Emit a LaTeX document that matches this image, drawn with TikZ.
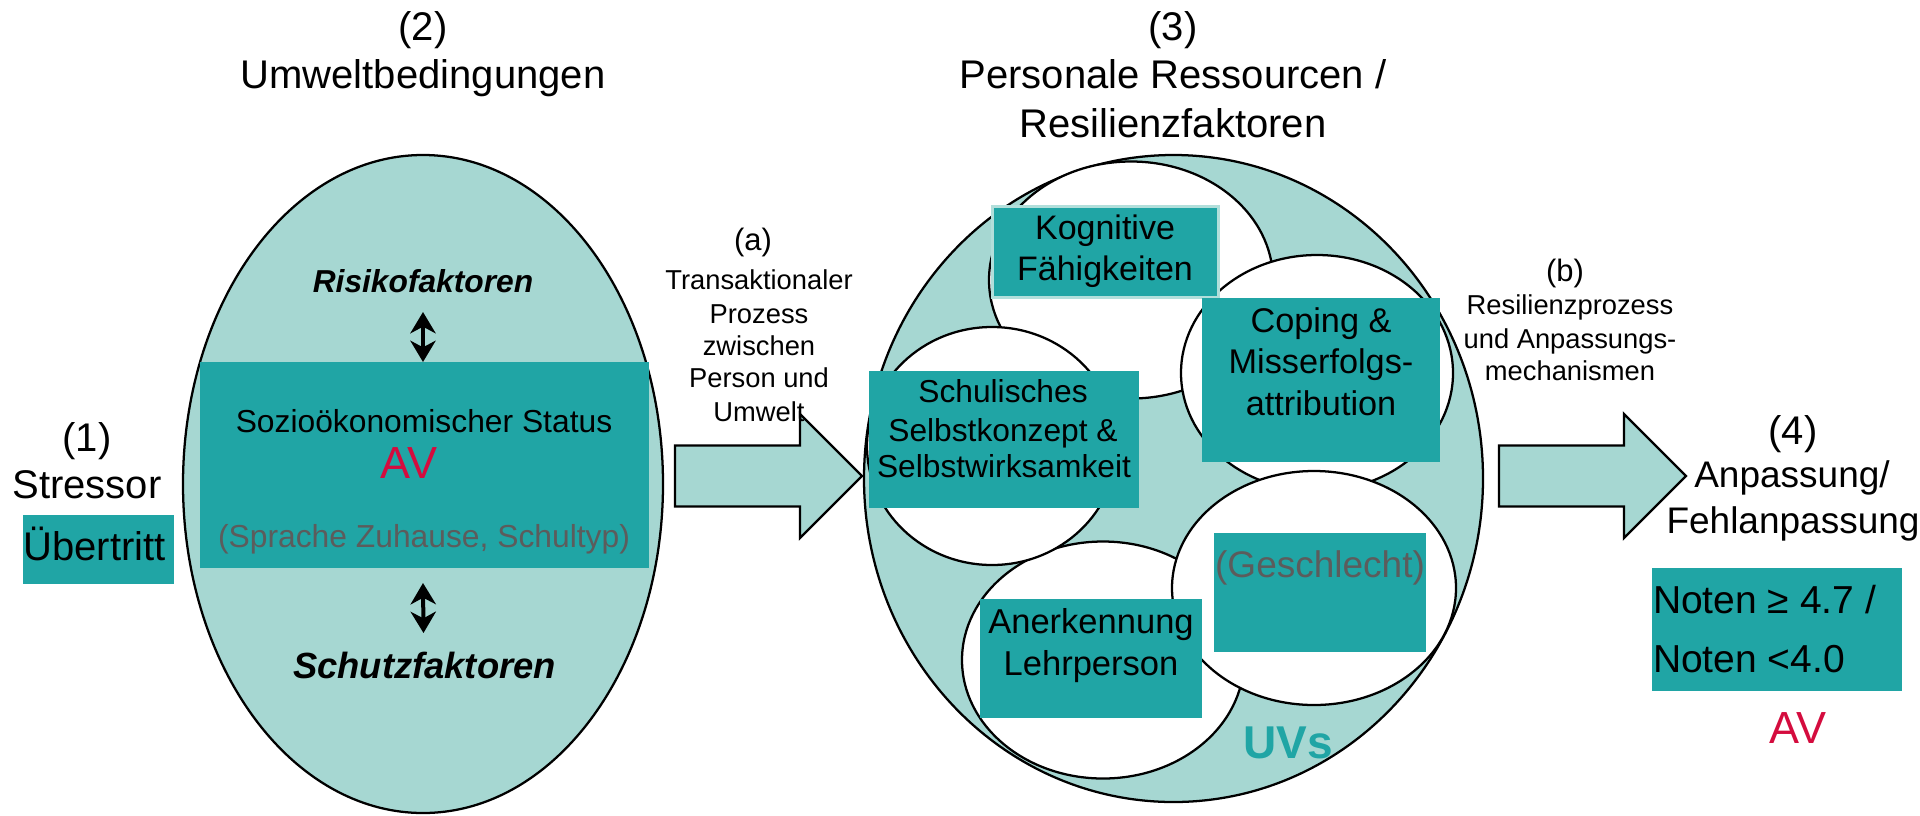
\documentclass[tikz,border=0pt]{standalone}
\usepackage{fontspec}
\setmainfont{Liberation Sans}
\usetikzlibrary{shapes.geometric,arrows.meta,calc}

\definecolor{paleteal}{RGB}{166,215,210}
\definecolor{boxteal}{RGB}{32,165,165}
\definecolor{rimteal}{RGB}{178,223,219}
\definecolor{avred}{RGB}{212,12,62}
\definecolor{softgrey}{RGB}{92,92,92}

\tikzset{
  oval/.style={ellipse, draw=black, line width=1.7pt, inner sep=0pt, outer sep=0pt},
  tealbox/.style={rectangle, fill=boxteal, inner sep=0pt, outer sep=0pt},
  lbl/.style={inner sep=0pt, outer sep=0pt, anchor=base},
  heading/.style={lbl, font=\fontsize{30}{36}\selectfont},
  boxtext/.style={lbl, font=\fontsize{#1}{#1}\selectfont},
  processtext/.style={lbl, font=\fontsize{20.5}{24}\selectfont},
  factor/.style={lbl, font=\fontsize{#1}{#1}\selectfont\bfseries\itshape},
  avmark/.style={lbl, text=avred, font=\fontsize{33.75}{36}\selectfont},
  blockarrow/.style={draw=black, line width=1.8pt, fill=paleteal, line join=miter,
    to path={let \p1=(\tikztostart), \p2=(\tikztotarget) in
      (\x1,\y1+22.9pt) -- (\x2-46.5pt,\y1+22.9pt) -- (\x2-46.5pt,\y1+46.5pt) -- (\x2,\y2)
      -- (\x2-46.5pt,\y1-46.5pt) -- (\x2-46.5pt,\y1-22.9pt) -- (\x1,\y1-22.9pt) -- cycle}},
  updown/.style={line width=3pt,
    {Stealth[length=16pt,width=19pt,inset=5pt]}-{Stealth[length=16pt,width=19pt,inset=5pt]}},
}

\begin{document}
\begin{tikzpicture}[x=0.75pt,y=-0.75pt]
\useasboundingbox (0,0) rectangle (1920,815);

% (1) stressor
\node[heading] (n1) at (87,451) {(1)};
\node[heading] (stressor) at (87,498) {Stressor};
\node[tealbox, minimum width=113.25pt, minimum height=51.75pt] (uebbox) at (98.5,549.5) {};
\node[heading] (uebtxt) at (94.5,560) {Übertritt};

% (2) environment
\node[heading] (n2) at (423,40) {(2)};
\node[heading] (umwelt) at (423,88) {Umweltbedingungen};
\node[oval, fill=paleteal, minimum width=360pt, minimum height=493.5pt] (env) at (423,484) {};
\node[tealbox, minimum width=336.75pt, minimum height=154.5pt] (ses) at (424.5,465) {};
\node[factor=23.8] (risk) at (423,292) {Risikofaktoren};
\node[boxtext=23.85] (sestxt) at (424,432) {Sozioökonomischer Status};
\node[avmark] (av1) at (409,478) {AV};
\node[boxtext=23.85, text=softgrey] (sprache) at (424,547) {(Sprache Zuhause, Schultyp)};
\node[factor=27.3] (schutz) at (424.5,678) {Schutzfaktoren};
\draw[updown] ($(ses.north)+(-1.5,-50)$) -- ($(ses.north)+(-1.5,0)$);
\draw[updown] ($(ses.south)+(-1.5,15)$) -- ($(ses.south)+(-1,65)$);

% (3) personal resources
\node[heading] (n3) at (1173,40) {(3)};
\node[heading] (pers) at (1173,88) {Personale Ressourcen /};
\node[heading] (resil) at (1173,137) {Resilienzfaktoren};
\node[oval, fill=paleteal, minimum width=464.25pt, minimum height=485.25pt] (res) at (1173.5,478.5) {};
\node[oval, fill=white, minimum width=213pt, minimum height=177.75pt] (kog) at (1131,280) {};
\node[oval, fill=white, minimum width=211.5pt, minimum height=177.75pt] (ane) at (1103,660) {};
\node[oval, fill=white, minimum width=187.5pt, minimum height=178.5pt] (sch) at (992,446) {};
\node[oval, fill=white, minimum width=204pt, minimum height=177pt] (cop) at (1317,373) {};
\node[oval, fill=white, minimum width=213pt, minimum height=175.5pt] (ges) at (1314,588) {};

\node[tealbox, draw=rimteal, line width=2pt, minimum width=169.5pt, minimum height=68.5pt] (kogbox) at (1105.5,252) {};
\node[tealbox, minimum width=202.5pt, minimum height=102.75pt] (schbox) at (1004,439.5) {};
\node[tealbox, minimum width=178.5pt, minimum height=123pt] (copbox) at (1321,380) {};
\node[tealbox, minimum width=166.5pt, minimum height=89.25pt] (anebox) at (1091,658.5) {};
\node[tealbox, minimum width=159pt, minimum height=89.25pt] (gesbox) at (1320,592.5) {};

\node[boxtext=25.5] (kog1) at (1105,239) {Kognitive};
\node[boxtext=25.5] (kog2) at (1105,280) {Fähigkeiten};
\node[boxtext=23.8] (sch1) at (1003,402) {Schulisches};
\node[boxtext=23.8] (sch2) at (1003,441) {Selbstkonzept \&};
\node[boxtext=23.8] (sch3) at (1004,477) {Selbstwirksamkeit};
\node[boxtext=25.7] (cop1) at (1321,332) {Coping \&};
\node[boxtext=25.7] (cop2) at (1321,373) {Misserfolgs-};
\node[boxtext=25.7] (cop3) at (1321,415) {attribution};
\node[boxtext=25.9] (ane1) at (1091,633) {Anerkennung};
\node[boxtext=25.9] (ane2) at (1091,675) {Lehrperson};
\node[boxtext=27.75, text=softgrey] (ges1) at (1320,577) {(Geschlecht)};
\node[lbl, text=boxteal, font=\fontsize{34.5}{36}\selectfont\bfseries] (uvs) at (1288,758) {UVs};

% (a) transactional process
\coordinate (atail) at ($(env.east)+(12,-8)$);
\coordinate (atip) at ($(res.west)+(-2,-2.5)$);
\draw[blockarrow] (atail) to (atip);
\node[boxtext=23.2] (pa) at (753,250) {(a)};
\node[processtext] (pa1) at (759,289) {Transaktionaler};
\node[processtext] (pa2) at (759,323) {Prozess};
\node[processtext] (pa3) at (759,355) {zwischen};
\node[processtext] (pa4) at (759,387) {Person und};
\node[processtext] (pa5) at (759,421) {Umwelt};

% (b) resilience process
\coordinate (btail) at ($(res.east)+(16,-2.5)$);
\coordinate (btip) at (1686,476);
\draw[blockarrow] (btail) to (btip);
\node[boxtext=23.2] (pb) at (1565,281) {(b)};
\node[processtext] (pb1) at (1570,314) {Resilienzprozess};
\node[processtext] (pb2) at (1570,348) {und Anpassungs-};
\node[processtext] (pb3) at (1570,380) {mechanismen};

% (4) adaptation
\node[heading] (n4) at (1793,444) {(4)};
\node[boxtext=27.75] (anp1) at (1792,487) {Anpassung/};
\node[boxtext=27.75] (anp2) at (1793,533) {Fehlanpassung};
\node[tealbox, minimum width=187.5pt, minimum height=92.25pt] (notenbox) at (1777,629.5) {};
\node[boxtext=29.25, anchor=base west] (noten1) at (1653,613) {Noten ≥ 4.7 /};
\node[boxtext=29.25, anchor=base west] (noten2) at (1653,672) {Noten <4.0};
\node[avmark] (av2) at (1798,743) {AV};
\end{tikzpicture}
\end{document}
